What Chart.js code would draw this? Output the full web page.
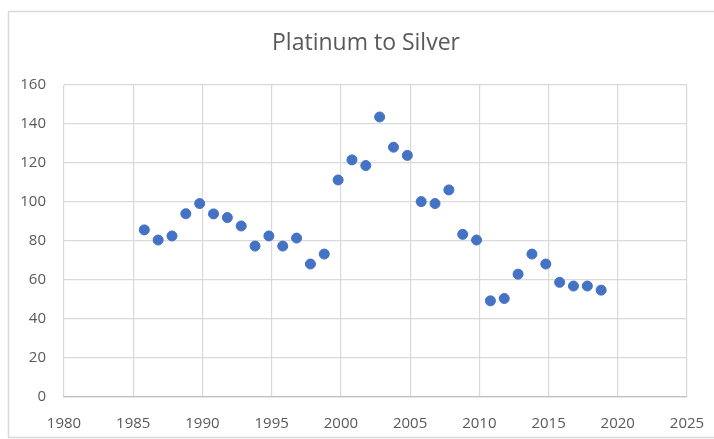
<!DOCTYPE html>
<html lang="en">

<head>
    <meta charset="UTF-8">
    <title>Platinum to Silver</title>
    <script src="https://cdn.jsdelivr.net/npm/chart.js"></script>
    <style>
        body { margin: 0; background: #fff; }
        #wrap { width: 714px; height: 439px; }
    </style>
</head>

<body>
    <div id="wrap"><canvas id="scatter-chart" width="714" height="439"></canvas></div>

    <script>
        // years as plotted (points sit a little left of the year gridlines)
        const years = [1985.8, 1986.8, 1987.8, 1988.8, 1989.8, 1990.8, 1991.8, 1992.8, 1993.8, 1994.8,
            1995.8, 1996.8, 1997.8, 1998.8, 1999.8, 2000.8, 2001.8, 2002.8, 2003.8, 2004.8,
            2005.8, 2006.8, 2007.8, 2008.8, 2009.8, 2010.8, 2011.8, 2012.8, 2013.8, 2014.8,
            2015.8, 2016.8, 2017.8, 2018.8];
        const ratios = [85.7, 80.5, 82.6, 94.0, 99.2, 93.9, 92.0, 87.7, 77.4, 82.6,
            77.4, 81.5, 68.2, 73.3, 111.3, 121.6, 118.7, 143.6, 128.1, 123.9,
            100.2, 99.2, 106.2, 83.4, 80.5, 49.3, 50.5, 63.0, 73.3, 68.2,
            58.8, 56.9, 56.9, 54.8];
        const xRange = [1980, 2025];
        const yRange = [0, 160];
        const chartTitle = 'Platinum to Silver';

        const points = years.map((y, i) => ({ x: y, y: ratios[i] }));

        const textColor = '#595959';
        const gridColor = '#d9d9d9';

        // white background, light outer frame and the title (sits a bit left of centre in the original)
        const frame = {
            id: 'frame',
            beforeDraw(chart) {
                const ctx = chart.ctx;
                ctx.save();
                ctx.fillStyle = '#ffffff';
                ctx.fillRect(0, 0, chart.width, chart.height);
                ctx.strokeStyle = '#d9d9d9';
                ctx.lineWidth = 1.5;
                ctx.strokeRect(8.5, 11.5, 720, 426);
                ctx.fillStyle = textColor;
                ctx.font = '23px "Open Sans"';
                ctx.textAlign = 'center';
                ctx.textBaseline = 'middle';
                ctx.fillText(chartTitle, 366, 43);
                ctx.restore();
            }
        };

        new Chart(document.getElementById('scatter-chart').getContext('2d'), {
            type: 'scatter',
            data: {
                datasets: [{
                    label: chartTitle,
                    data: points,
                    backgroundColor: '#4472c4',
                    borderColor: '#4472c4',
                    pointRadius: 5,
                    pointHoverRadius: 5
                }]
            },
            options: {
                responsive: false,
                animation: false,
                layout: {
                    padding: { left: 0, right: 27, top: 85, bottom: 0 }
                },
                plugins: {
                    legend: { display: false },
                    tooltip: { enabled: false },
                    title: { display: false }
                },
                scales: {
                    x: {
                        type: 'linear',
                        min: xRange[0],
                        max: xRange[1],
                        afterFit: scale => {
                            scale.height = 42;
                            scale.paddingLeft = 0;
                            scale.paddingRight = 0;
                        },
                        grid: { color: gridColor, lineWidth: 1.2, drawTicks: false },
                        border: { color: '#bfbfbf', width: 1.2 },
                        ticks: {
                            stepSize: 5,
                            padding: 18,
                            color: textColor,
                            font: { family: 'Open Sans', size: 15 },
                            callback: v => String(v)
                        }
                    },
                    y: {
                        min: yRange[0],
                        max: yRange[1],
                        afterFit: scale => { scale.width = 64; },
                        grid: { color: gridColor, lineWidth: 1.2, drawTicks: false },
                        border: { display: false },
                        ticks: {
                            stepSize: 20,
                            padding: 18,
                            color: textColor,
                            font: { family: 'Open Sans', size: 15 }
                        }
                    }
                }
            },
            plugins: [frame]
        });
    </script>
</body>

</html>
